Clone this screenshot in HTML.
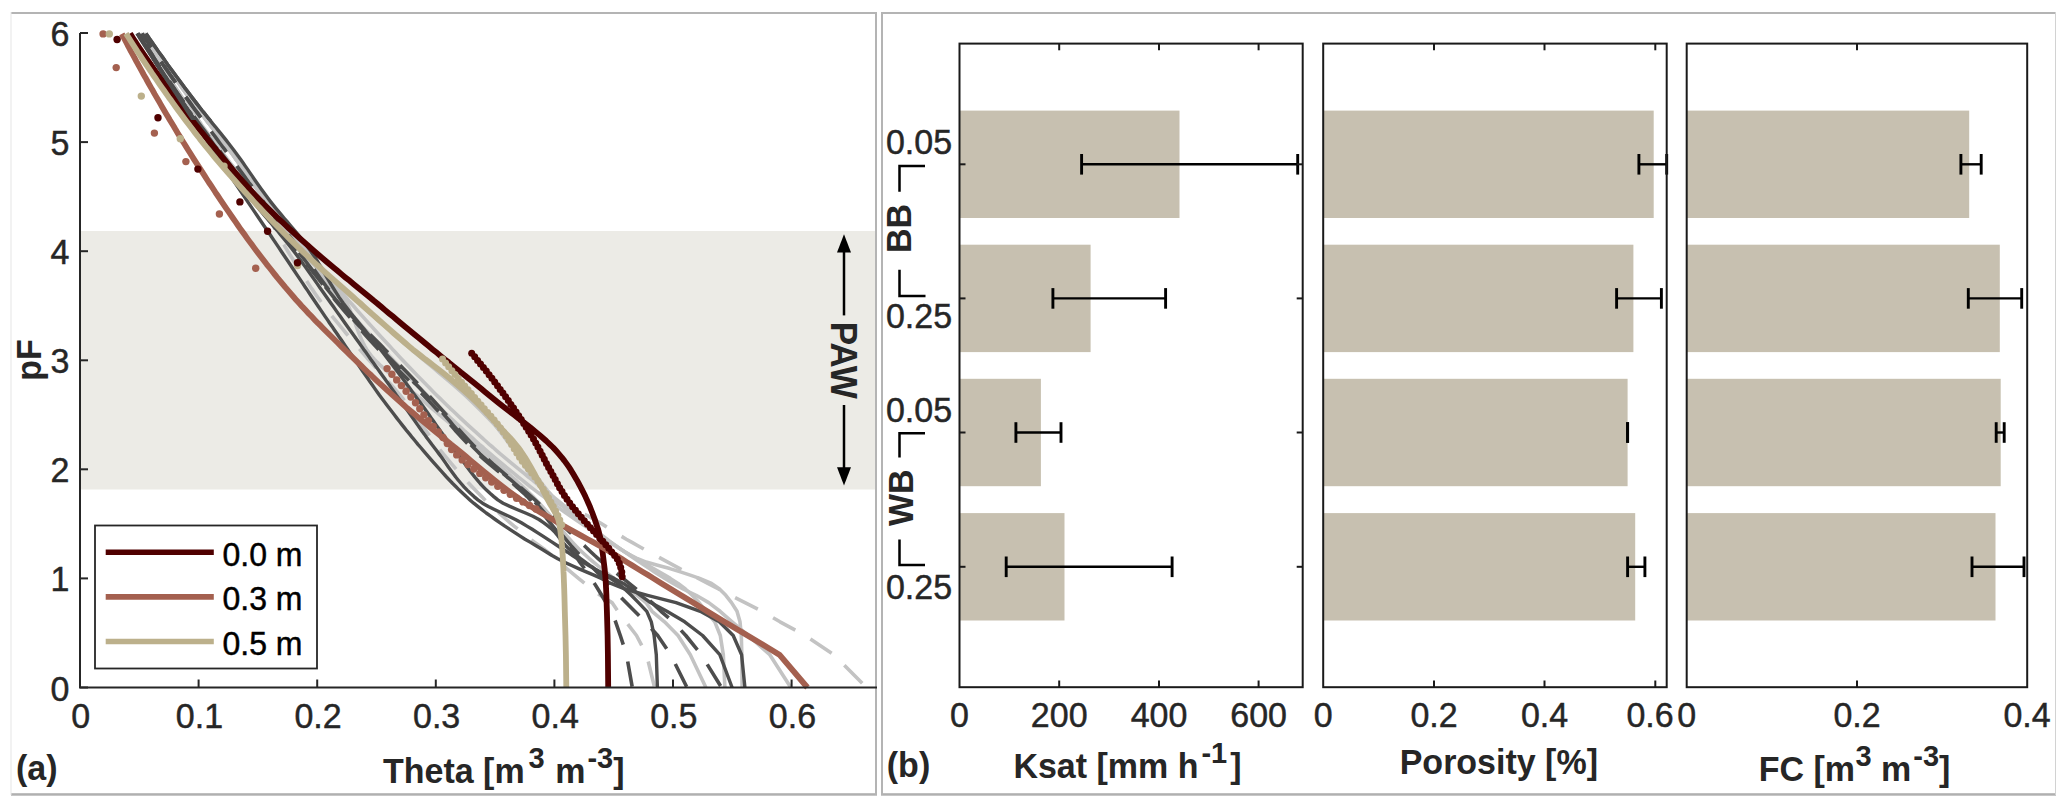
<!DOCTYPE html><html><head><meta charset="utf-8"><style>html,body{margin:0;padding:0;background:#fff;overflow:hidden}svg{display:block}</style></head><body>
<svg width="2067" height="807" viewBox="0 0 2067 807" style="font-family: 'Liberation Sans', sans-serif;">
<rect x="0" y="0" width="2067" height="807" fill="#fff"/>
<rect x="11" y="12" width="866" height="2" fill="#b4b4b4"/>
<rect x="11" y="793.2" width="866" height="2.5" fill="#b0b0b0"/>
<rect x="10.5" y="12" width="1" height="783" fill="#e6e6e6"/>
<rect x="875" y="12" width="2" height="783" fill="#b4b4b4"/>
<rect x="881" y="12" width="1175" height="2" fill="#b4b4b4"/>
<rect x="881" y="793.2" width="1175" height="2.5" fill="#b0b0b0"/>
<rect x="881" y="12" width="2" height="783" fill="#b4b4b4"/>
<rect x="2055" y="12" width="1" height="783" fill="#d2d2d2"/>
<rect x="81" y="231" width="794" height="258.5" fill="#ecebe6"/>
<g fill="none" stroke-linejoin="round">
<path d="M146.0,33.5 L147.1,35.2 L149.2,38.5 L151.3,41.7 L153.5,45.0 L155.6,48.3 L157.8,51.6 L160.0,54.8 L162.2,58.1 L164.4,61.4 L166.6,64.7 L168.9,67.9 L171.1,71.2 L173.4,74.5 L175.7,77.7 L178.0,81.0 L180.3,84.3 L182.6,87.6 L184.9,90.8 L187.3,94.1 L189.6,97.4 L192.0,100.6 L194.4,103.9 L196.8,107.2 L199.3,110.5 L201.7,113.7 L204.2,117.0 L206.8,120.3 L209.3,123.6 L211.8,126.8 L214.4,130.1 L216.9,133.4 L219.4,136.6 L221.9,139.9 L224.4,143.2 L226.9,146.5 L229.3,149.7 L231.7,153.0 L234.1,156.3 L236.4,159.6 L238.8,162.8 L241.1,166.1 L243.4,169.4 L245.7,172.6 L248.0,175.9 L250.3,179.2 L252.6,182.5 L254.9,185.7 L257.2,189.0 L259.5,192.3 L261.8,195.5 L264.2,198.8 L266.5,202.1 L268.8,205.4 L271.0,208.6 L273.2,211.9 L275.4,215.2 L277.6,218.5 L279.8,221.7 L282.0,225.0 L284.3,228.3 L286.6,231.5 L288.9,234.8 L291.4,238.1 L293.9,241.4 L296.5,244.6 L299.2,247.9 L302.0,251.2 L305.0,254.5 L308.2,257.7 L311.5,261.0 L315.0,264.3 L318.5,267.5 L322.2,270.8 L325.9,274.1 L329.7,277.4 L333.5,280.6 L337.3,283.9 L341.2,287.2 L345.0,290.4 L348.8,293.7 L352.6,297.0 L356.3,300.3 L360.0,303.5 L363.6,306.8 L367.3,310.1 L371.0,313.4 L374.7,316.6 L378.4,319.9 L382.1,323.2 L385.8,326.4 L389.5,329.7 L393.2,333.0 L397.0,336.3 L400.8,339.5 L404.6,342.8 L408.4,346.1 L412.2,349.4 L416.1,352.6 L420.2,355.9 L424.3,359.2 L428.5,362.4 L432.7,365.7 L437.0,369.0 L441.3,372.3 L445.5,375.5 L449.7,378.8 L453.8,382.1 L457.9,385.3 L461.8,388.6 L465.5,391.9 L469.1,395.2 L472.5,398.4 L475.6,401.7 L478.7,405.0 L481.6,408.3 L484.4,411.5 L487.1,414.8 L489.8,418.1 L492.3,421.3 L494.9,424.6 L497.4,427.9 L499.8,431.2 L502.3,434.4 L504.7,437.7 L507.1,441.0 L509.6,444.3 L512.1,447.5 L514.6,450.8 L517.0,454.1 L519.2,457.3 L521.3,460.6 L523.4,463.9 L525.3,467.2 L527.3,470.4 L529.3,473.7 L531.4,477.0 L533.6,480.2 L536.0,483.5 L538.6,486.8 L541.4,490.1 L544.5,493.3 L548.0,496.6 L551.9,499.9 L557.2,503.2 L564.7,506.4 L573.1,509.7 L581.4,513.0 L588.5,516.2 L594.4,519.5 L600.0,522.8 L605.3,526.1 L610.4,529.3 L615.5,532.6 L620.8,535.9 L626.3,539.2 L632.0,542.4 L637.9,545.7 L643.8,549.0 L649.8,552.2 L655.8,555.5 L661.8,558.8 L667.8,562.1 L673.8,565.3 L679.8,568.6 L685.9,571.9 L692.1,575.1 L698.3,578.4 L707.8,583.4 L718.5,589.0 L730.8,595.3 L745.0,602.6 L762.0,611.3 L780.0,621.8 L805.0,635.5 L834.0,654.7 L866.4,687.5" stroke="#c3c3c3" stroke-width="3.6" stroke-dasharray="25.5 17.5" stroke-dashoffset="29.5"/>
<path d="M145.0,33.5 L146.1,35.2 L148.2,38.5 L150.4,41.7 L152.6,45.0 L154.8,48.3 L157.0,51.6 L159.2,54.8 L161.4,58.1 L163.6,61.4 L165.9,64.7 L168.2,67.9 L170.4,71.2 L172.7,74.5 L175.0,77.7 L177.3,81.0 L179.7,84.3 L182.0,87.6 L184.4,90.8 L186.7,94.1 L189.1,97.4 L191.5,100.6 L193.9,103.9 L196.3,107.2 L198.8,110.5 L201.3,113.7 L203.9,117.0 L206.4,120.3 L209.0,123.6 L211.5,126.8 L214.1,130.1 L216.6,133.4 L219.2,136.6 L221.7,139.9 L224.2,143.2 L226.7,146.5 L229.1,149.7 L231.5,153.0 L233.9,156.3 L236.3,159.6 L238.6,162.8 L240.9,166.1 L243.3,169.4 L245.6,172.6 L247.9,175.9 L250.2,179.2 L252.5,182.5 L254.8,185.7 L257.1,189.0 L259.4,192.3 L261.7,195.5 L264.1,198.8 L266.4,202.1 L268.7,205.4 L270.9,208.6 L273.2,211.9 L275.4,215.2 L277.6,218.5 L279.8,221.7 L282.0,225.0 L284.3,228.3 L286.6,231.5 L289.0,234.8 L291.4,238.1 L293.9,241.4 L296.5,244.6 L299.2,247.9 L302.0,251.2 L305.0,254.5 L308.1,257.7 L311.4,261.0 L314.8,264.3 L318.2,267.5 L321.8,270.8 L325.5,274.1 L329.1,277.4 L332.9,280.6 L336.6,283.9 L340.4,287.2 L344.2,290.4 L347.9,293.7 L351.6,297.0 L355.3,300.3 L358.9,303.5 L362.6,306.8 L366.3,310.1 L370.0,313.4 L373.7,316.6 L377.4,319.9 L381.2,323.2 L384.9,326.4 L388.7,329.7 L392.4,333.0 L396.2,336.3 L400.0,339.5 L403.7,342.8 L407.5,346.1 L411.3,349.4 L415.0,352.6 L418.9,355.9 L422.7,359.2 L426.6,362.4 L430.6,365.7 L434.5,369.0 L438.4,372.3 L442.3,375.5 L446.2,378.8 L450.1,382.1 L453.9,385.3 L457.6,388.6 L461.3,391.9 L464.9,395.2 L468.4,398.4 L471.8,401.7 L475.1,405.0 L478.4,408.3 L481.7,411.5 L484.9,414.8 L488.1,418.1 L491.2,421.3 L494.3,424.6 L497.4,427.9 L500.4,431.2 L503.3,434.4 L506.3,437.7 L509.2,441.0 L512.0,444.3 L514.9,447.5 L517.7,450.8 L520.4,454.1 L522.9,457.3 L525.4,460.6 L527.8,463.9 L530.1,467.2 L532.5,470.4 L534.8,473.7 L537.1,477.0 L539.5,480.2 L541.9,483.5 L544.5,486.8 L547.1,490.1 L549.9,493.3 L552.8,496.6 L555.9,499.9 L559.2,503.2 L562.7,506.4 L566.5,509.7 L570.4,513.0 L574.5,516.2 L578.8,519.5 L583.1,522.8 L587.6,526.1 L592.2,529.3 L596.8,532.6 L601.5,535.9 L606.3,539.2 L611.0,542.4 L615.8,545.7 L620.5,549.0 L625.2,552.2 L629.9,555.5 L634.7,558.8 L639.5,562.1 L644.4,565.3 L649.4,568.6 L654.4,571.9 L659.6,575.1 L664.9,578.4 L673.2,583.4 L683.0,589.0 L696.1,595.3 L708.7,602.6 L720.1,611.3 L732.1,621.8 L748.3,635.5 L769.8,654.7 L790.8,687.5" stroke="#c3c3c3" stroke-width="3.6"/>
<path d="M144.0,33.5 L145.1,35.2 L147.4,38.5 L149.6,41.7 L151.8,45.0 L154.1,48.3 L156.3,51.6 L158.6,54.8 L160.9,58.1 L163.2,61.4 L165.5,64.7 L167.8,67.9 L170.1,71.2 L172.5,74.5 L174.8,77.7 L177.2,81.0 L179.5,84.3 L181.9,87.6 L184.3,90.8 L186.7,94.1 L189.1,97.4 L191.5,100.6 L193.9,103.9 L196.4,107.2 L198.9,110.5 L201.4,113.7 L203.9,117.0 L206.5,120.3 L209.0,123.6 L211.6,126.8 L214.1,130.1 L216.7,133.4 L219.2,136.6 L221.7,139.9 L224.2,143.2 L226.7,146.5 L229.1,149.7 L231.5,153.0 L233.9,156.3 L236.2,159.6 L238.5,162.8 L240.7,166.1 L243.0,169.4 L245.3,172.6 L247.5,175.9 L249.8,179.2 L252.1,182.5 L254.4,185.7 L256.7,189.0 L259.1,192.3 L261.5,195.5 L264.0,198.8 L266.5,202.1 L269.1,205.4 L271.8,208.6 L274.5,211.9 L277.2,215.2 L280.0,218.5 L282.8,221.7 L285.7,225.0 L288.5,228.3 L291.4,231.5 L294.2,234.8 L297.1,238.1 L299.9,241.4 L302.7,244.6 L305.4,247.9 L308.2,251.2 L310.9,254.5 L313.6,257.7 L316.3,261.0 L318.9,264.3 L321.6,267.5 L324.2,270.8 L326.9,274.1 L329.5,277.4 L332.2,280.6 L334.8,283.9 L337.5,287.2 L340.2,290.4 L343.0,293.7 L345.7,297.0 L348.5,300.3 L351.3,303.5 L354.2,306.8 L357.0,310.1 L359.9,313.4 L362.8,316.6 L365.7,319.9 L368.7,323.2 L371.6,326.4 L374.6,329.7 L377.5,333.0 L380.5,336.3 L383.5,339.5 L386.5,342.8 L389.6,346.1 L392.6,349.4 L395.6,352.6 L398.7,355.9 L401.8,359.2 L404.9,362.4 L408.0,365.7 L411.1,369.0 L414.2,372.3 L417.3,375.5 L420.5,378.8 L423.7,382.1 L426.9,385.3 L430.1,388.6 L433.4,391.9 L436.7,395.2 L440.0,398.4 L443.4,401.7 L446.7,405.0 L450.1,408.3 L453.6,411.5 L457.0,414.8 L460.5,418.1 L464.0,421.3 L467.5,424.6 L471.1,427.9 L474.7,431.2 L478.3,434.4 L481.9,437.7 L485.6,441.0 L489.3,444.3 L493.1,447.5 L496.8,450.8 L500.6,454.1 L504.5,457.3 L508.4,460.6 L512.3,463.9 L516.3,467.2 L520.3,470.4 L524.4,473.7 L528.4,477.0 L532.5,480.2 L536.6,483.5 L540.7,486.8 L544.8,490.1 L548.9,493.3 L553.0,496.6 L557.1,499.9 L561.1,503.2 L565.1,506.4 L569.1,509.7 L573.1,513.0 L577.1,516.2 L581.1,519.5 L585.3,522.8 L589.5,526.1 L593.8,529.3 L598.2,532.6 L602.7,535.9 L607.0,539.2 L611.2,542.4 L615.6,545.7 L620.3,549.0 L625.4,552.2 L631.2,555.5 L637.7,558.8 L646.2,562.1 L657.6,565.3 L669.8,568.6 L680.4,571.9 L690.2,575.1 L699.6,578.4 L711.5,583.4 L719.5,589.0 L725.8,595.3 L731.5,602.6 L737.0,611.3 L740.0,621.8 L741.3,635.5 L741.8,654.7 L742.1,687.5" stroke="#c3c3c3" stroke-width="3.6"/>
<path d="M143.0,33.5 L144.2,35.2 L146.5,38.5 L148.8,41.7 L151.1,45.0 L153.4,48.3 L155.7,51.6 L158.0,54.8 L160.4,58.1 L162.7,61.4 L165.1,64.7 L167.5,67.9 L169.8,71.2 L172.2,74.5 L174.6,77.7 L177.0,81.0 L179.4,84.3 L181.8,87.6 L184.2,90.8 L186.6,94.1 L189.0,97.4 L191.5,100.6 L193.9,103.9 L196.4,107.2 L198.9,110.5 L201.4,113.7 L204.0,117.0 L206.5,120.3 L209.1,123.6 L211.6,126.8 L214.2,130.1 L216.7,133.4 L219.2,136.6 L221.7,139.9 L224.2,143.2 L226.7,146.5 L229.1,149.7 L231.5,153.0 L233.9,156.3 L236.2,159.6 L238.5,162.8 L240.8,166.1 L243.1,169.4 L245.4,172.6 L247.7,175.9 L250.0,179.2 L252.3,182.5 L254.6,185.7 L256.9,189.0 L259.2,192.3 L261.6,195.5 L264.0,198.8 L266.5,202.1 L269.0,205.4 L271.5,208.6 L274.0,211.9 L276.6,215.2 L279.2,218.5 L281.8,221.7 L284.4,225.0 L287.0,228.3 L289.6,231.5 L292.2,234.8 L294.8,238.1 L297.4,241.4 L299.9,244.6 L302.4,247.9 L304.9,251.2 L307.3,254.5 L309.7,257.7 L312.0,261.0 L314.3,264.3 L316.6,267.5 L318.8,270.8 L321.1,274.1 L323.4,277.4 L325.7,280.6 L328.0,283.9 L330.3,287.2 L332.7,290.4 L335.2,293.7 L337.6,297.0 L340.2,300.3 L342.8,303.5 L345.5,306.8 L348.2,310.1 L351.0,313.4 L353.8,316.6 L356.7,319.9 L359.6,323.2 L362.5,326.4 L365.4,329.7 L368.4,333.0 L371.4,336.3 L374.4,339.5 L377.4,342.8 L380.4,346.1 L383.4,349.4 L386.4,352.6 L389.4,355.9 L392.5,359.2 L395.5,362.4 L398.6,365.7 L401.7,369.0 L404.8,372.3 L407.9,375.5 L411.0,378.8 L414.2,382.1 L417.4,385.3 L420.6,388.6 L423.9,391.9 L427.1,395.2 L430.4,398.4 L433.7,401.7 L437.1,405.0 L440.5,408.3 L443.9,411.5 L447.3,414.8 L450.7,418.1 L454.2,421.3 L457.7,424.6 L461.3,427.9 L464.8,431.2 L468.4,434.4 L472.1,437.7 L475.7,441.0 L479.4,444.3 L483.2,447.5 L486.9,450.8 L490.7,454.1 L494.5,457.3 L498.4,460.6 L502.3,463.9 L506.2,467.2 L510.2,470.4 L514.2,473.7 L518.2,477.0 L522.3,480.2 L526.4,483.5 L530.6,486.8 L534.8,490.1 L539.1,493.3 L543.5,496.6 L547.8,499.9 L552.3,503.2 L556.8,506.4 L561.4,509.7 L566.0,513.0 L570.7,516.2 L575.4,519.5 L580.2,522.8 L585.0,526.1 L589.9,529.3 L594.9,532.6 L599.9,535.9 L604.9,539.2 L610.0,542.4 L615.2,545.7 L620.4,549.0 L625.6,552.2 L631.1,555.5 L636.7,558.8 L642.4,562.1 L647.9,565.3 L653.4,568.6 L659.1,571.9 L664.8,575.1 L670.3,578.4 L678.1,583.4 L685.4,589.0 L692.2,595.3 L699.0,602.6 L706.0,611.3 L714.8,621.8 L720.3,635.5 L723.3,654.7 L724.9,687.5" stroke="#c3c3c3" stroke-width="3.6"/>
<path d="M141.0,33.5 L142.0,35.2 L144.0,38.5 L146.0,41.7 L148.0,45.0 L150.1,48.3 L152.1,51.6 L154.2,54.8 L156.2,58.1 L158.3,61.4 L160.4,64.7 L162.6,67.9 L164.7,71.2 L166.8,74.5 L169.0,77.7 L171.2,81.0 L173.4,84.3 L175.5,87.6 L177.8,90.8 L180.0,94.1 L182.2,97.4 L184.4,100.6 L186.7,103.9 L189.0,107.2 L191.3,110.5 L193.6,113.7 L195.9,117.0 L198.3,120.3 L200.6,123.6 L203.0,126.8 L205.4,130.1 L207.8,133.4 L210.3,136.6 L212.7,139.9 L215.2,143.2 L217.6,146.5 L220.1,149.7 L222.6,153.0 L225.1,156.3 L227.7,159.6 L230.2,162.8 L232.8,166.1 L235.4,169.4 L238.0,172.6 L240.6,175.9 L243.3,179.2 L245.9,182.5 L248.5,185.7 L251.2,189.0 L253.8,192.3 L256.4,195.5 L259.1,198.8 L261.7,202.1 L264.3,205.4 L266.8,208.6 L269.4,211.9 L272.0,215.2 L274.5,218.5 L277.1,221.7 L279.7,225.0 L282.3,228.3 L284.9,231.5 L287.5,234.8 L290.1,238.1 L292.8,241.4 L295.5,244.6 L298.2,247.9 L301.0,251.2 L303.9,254.5 L307.0,257.7 L310.1,261.0 L313.4,264.3 L316.6,267.5 L319.9,270.8 L323.2,274.1 L326.4,277.4 L329.6,280.6 L332.6,283.9 L335.5,287.2 L338.2,290.4 L340.8,293.7 L343.1,297.0 L345.2,300.3 L347.0,303.5 L348.6,306.8 L350.1,310.1 L351.5,313.4 L352.8,316.6 L354.0,319.9 L355.2,323.2 L356.3,326.4 L357.5,329.7 L358.8,333.0 L360.1,336.3 L361.5,339.5 L363.1,342.8 L364.8,346.1 L366.7,349.4 L368.9,352.6 L371.4,355.9 L374.3,359.2 L377.4,362.4 L380.8,365.7 L384.4,369.0 L388.2,372.3 L392.1,375.5 L396.1,378.8 L400.2,382.1 L404.3,385.3 L408.4,388.6 L412.5,391.9 L416.5,395.2 L420.4,398.4 L424.2,401.7 L427.9,405.0 L431.8,408.3 L435.7,411.5 L439.5,414.8 L443.5,418.1 L447.4,421.3 L451.4,424.6 L455.3,427.9 L459.2,431.2 L463.2,434.4 L467.1,437.7 L470.9,441.0 L474.8,444.3 L478.6,447.5 L482.3,450.8 L486.0,454.1 L489.8,457.3 L493.5,460.6 L497.3,463.9 L501.0,467.2 L504.7,470.4 L508.4,473.7 L512.1,477.0 L515.7,480.2 L519.3,483.5 L522.8,486.8 L526.3,490.1 L529.6,493.3 L533.0,496.6 L536.2,499.9 L539.3,503.2 L542.3,506.4 L545.2,509.7 L548.0,513.0 L550.7,516.2 L553.4,519.5 L556.0,522.8 L558.7,526.1 L561.4,529.3 L564.1,532.6 L566.8,535.9 L569.7,539.2 L572.6,542.4 L575.7,545.7 L578.9,549.0 L582.3,552.2 L585.9,555.5 L589.6,558.8 L593.5,562.1 L597.4,565.3 L601.5,568.6 L605.6,571.9 L609.8,575.1 L614.0,578.4 L620.5,583.4 L627.8,589.0 L637.0,595.3 L646.0,602.6 L652.0,611.3 L664.5,621.8 L678.0,635.5 L690.3,654.7 L705.9,687.5" stroke="#c3c3c3" stroke-width="3.6"/>
<path d="M140.0,33.5 L141.1,35.2 L143.1,38.5 L145.2,41.7 L147.3,45.0 L149.4,48.3 L151.5,51.6 L153.6,54.8 L155.7,58.1 L157.9,61.4 L160.0,64.7 L162.2,67.9 L164.4,71.2 L166.6,74.5 L168.8,77.7 L171.0,81.0 L173.2,84.3 L175.4,87.6 L177.7,90.8 L179.9,94.1 L182.2,97.4 L184.5,100.6 L186.7,103.9 L189.0,107.2 L191.4,110.5 L193.7,113.7 L196.1,117.0 L198.4,120.3 L200.8,123.6 L203.2,126.8 L205.6,130.1 L208.0,133.4 L210.4,136.6 L212.8,139.9 L215.3,143.2 L217.7,146.5 L220.1,149.7 L222.5,153.0 L225.0,156.3 L227.6,159.6 L230.1,162.8 L232.7,166.1 L235.2,169.4 L237.8,172.6 L240.4,175.9 L242.9,179.2 L245.4,182.5 L247.9,185.7 L250.3,189.0 L252.7,192.3 L255.0,195.5 L257.2,198.8 L259.4,202.1 L261.4,205.4 L263.4,208.6 L265.4,211.9 L267.3,215.2 L269.1,218.5 L271.0,221.7 L272.8,225.0 L274.6,228.3 L276.4,231.5 L278.3,234.8 L280.1,238.1 L282.0,241.4 L283.9,244.6 L285.8,247.9 L287.8,251.2 L289.8,254.5 L291.9,257.7 L293.9,261.0 L295.9,264.3 L298.0,267.5 L300.0,270.8 L302.1,274.1 L304.2,277.4 L306.4,280.6 L308.5,283.9 L310.7,287.2 L313.0,290.4 L315.2,293.7 L317.5,297.0 L319.9,300.3 L322.3,303.5 L324.8,306.8 L327.3,310.1 L329.8,313.4 L332.4,316.6 L335.1,319.9 L337.8,323.2 L340.5,326.4 L343.2,329.7 L345.9,333.0 L348.7,336.3 L351.5,339.5 L354.2,342.8 L357.0,346.1 L359.8,349.4 L362.5,352.6 L365.3,355.9 L368.2,359.2 L371.1,362.4 L374.0,365.7 L377.0,369.0 L379.9,372.3 L382.9,375.5 L385.8,378.8 L388.7,382.1 L391.6,385.3 L394.5,388.6 L397.3,391.9 L400.0,395.2 L402.7,398.4 L405.2,401.7 L407.8,405.0 L410.2,408.3 L412.6,411.5 L414.9,414.8 L417.2,418.1 L419.5,421.3 L421.7,424.6 L424.0,427.9 L426.3,431.2 L428.6,434.4 L430.9,437.7 L433.3,441.0 L435.7,444.3 L438.2,447.5 L440.8,450.8 L443.5,454.1 L446.2,457.3 L448.9,460.6 L451.6,463.9 L454.4,467.2 L457.2,470.4 L460.1,473.7 L463.0,477.0 L466.0,480.2 L469.0,483.5 L472.1,486.8 L475.2,490.1 L478.4,493.3 L481.6,496.6 L484.9,499.9 L488.2,503.2 L491.7,506.4 L495.2,509.7 L498.9,513.0 L502.6,516.2 L506.3,519.5 L510.2,522.8 L514.1,526.1 L518.1,529.3 L522.1,532.6 L526.2,535.9 L530.4,539.2 L534.8,542.4 L539.4,545.7 L543.9,549.0 L547.9,552.2 L551.8,555.5 L555.5,558.8 L559.2,562.1 L563.0,565.3 L566.8,568.6 L570.7,571.9 L574.6,575.1 L578.5,578.4 L584.7,583.4 L591.6,589.0 L600.2,595.3 L612.0,602.6 L618.0,611.3 L626.0,621.8 L636.5,635.5 L646.6,654.7 L654.6,687.5" stroke="#c3c3c3" stroke-width="3.6" stroke-dasharray="25.5 17.5" stroke-dashoffset="2.3"/>
<path d="M142.0,33.5 L143.1,35.2 L145.3,38.5 L147.5,41.7 L149.7,45.0 L151.9,48.3 L154.1,51.6 L156.4,54.8 L158.6,58.1 L160.9,61.4 L163.1,64.7 L165.4,67.9 L167.7,71.2 L169.9,74.5 L172.2,77.7 L174.5,81.0 L176.8,84.3 L179.1,87.6 L181.5,90.8 L183.8,94.1 L186.1,97.4 L188.5,100.6 L190.8,103.9 L193.2,107.2 L195.6,110.5 L198.0,113.7 L200.4,117.0 L202.8,120.3 L205.3,123.6 L207.7,126.8 L210.2,130.1 L212.6,133.4 L215.1,136.6 L217.5,139.9 L219.9,143.2 L222.4,146.5 L224.8,149.7 L227.2,153.0 L229.6,156.3 L232.1,159.6 L234.5,162.8 L236.9,166.1 L239.3,169.4 L241.7,172.6 L244.1,175.9 L246.5,179.2 L248.9,182.5 L251.4,185.7 L253.8,189.0 L256.2,192.3 L258.7,195.5 L261.1,198.8 L263.6,202.1 L266.0,205.4 L268.5,208.6 L271.0,211.9 L273.5,215.2 L276.0,218.5 L278.5,221.7 L281.0,225.0 L283.5,228.3 L286.0,231.5 L288.5,234.8 L291.0,238.1 L293.5,241.4 L296.0,244.6 L298.4,247.9 L300.9,251.2 L303.3,254.5 L305.7,257.7 L308.0,261.0 L310.3,264.3 L312.7,267.5 L315.0,270.8 L317.3,274.1 L319.6,277.4 L322.0,280.6 L324.4,283.9 L326.8,287.2 L329.3,290.4 L331.9,293.7 L334.5,297.0 L337.2,300.3 L340.0,303.5 L343.0,306.8 L346.0,310.1 L349.0,313.4 L352.2,316.6 L355.4,319.9 L358.7,323.2 L362.0,326.4 L365.3,329.7 L368.6,333.0 L371.9,336.3 L375.2,339.5 L378.5,342.8 L381.7,346.1 L384.9,349.4 L388.0,352.6 L391.2,355.9 L394.3,359.2 L397.4,362.4 L400.6,365.7 L403.7,369.0 L406.9,372.3 L410.0,375.5 L413.1,378.8 L416.2,382.1 L419.3,385.3 L422.4,388.6 L425.5,391.9 L428.5,395.2 L431.6,398.4 L434.6,401.7 L437.5,405.0 L440.4,408.3 L443.3,411.5 L446.2,414.8 L449.0,418.1 L451.8,421.3 L454.7,424.6 L457.5,427.9 L460.4,431.2 L463.3,434.4 L466.3,437.7 L469.3,441.0 L472.4,444.3 L475.5,447.5 L478.8,450.8 L482.2,454.1 L485.7,457.3 L489.3,460.6 L492.9,463.9 L496.7,467.2 L500.5,470.4 L504.3,473.7 L508.2,477.0 L512.1,480.2 L516.0,483.5 L519.8,486.8 L523.7,490.1 L527.5,493.3 L531.2,496.6 L534.9,499.9 L538.5,503.2 L542.1,506.4 L545.7,509.7 L549.2,513.0 L552.8,516.2 L556.3,519.5 L559.8,522.8 L563.3,526.1 L566.8,529.3 L570.3,532.6 L573.8,535.9 L577.3,539.2 L580.8,542.4 L584.4,545.7 L587.8,549.0 L591.2,552.2 L594.7,555.5 L598.4,558.8 L602.2,562.1 L606.2,565.3 L610.4,568.6 L614.7,571.9 L618.9,575.1 L623.0,578.4 L629.2,583.4 L636.0,589.0 L643.6,595.3 L652.0,602.6 L661.0,611.3 L673.1,621.8 L685.8,635.5 L701.3,654.7 L721.5,687.5" stroke="#4d4d4d" stroke-width="3.6" stroke-dasharray="25.5 17.5" stroke-dashoffset="9.0"/>
<path d="M139.0,33.5 L140.0,35.2 L142.0,38.5 L144.0,41.7 L146.0,45.0 L148.0,48.3 L150.0,51.6 L152.1,54.8 L154.1,58.1 L156.2,61.4 L158.3,64.7 L160.4,67.9 L162.6,71.2 L164.7,74.5 L166.9,77.7 L169.1,81.0 L171.3,84.3 L173.5,87.6 L175.7,90.8 L177.9,94.1 L180.2,97.4 L182.5,100.6 L184.7,103.9 L187.1,107.2 L189.4,110.5 L191.8,113.7 L194.2,117.0 L196.6,120.3 L199.1,123.6 L201.5,126.8 L204.0,130.1 L206.4,133.4 L208.9,136.6 L211.4,139.9 L213.9,143.2 L216.3,146.5 L218.8,149.7 L221.3,153.0 L223.7,156.3 L226.2,159.6 L228.6,162.8 L231.1,166.1 L233.6,169.4 L236.0,172.6 L238.5,175.9 L241.0,179.2 L243.5,182.5 L246.0,185.7 L248.5,189.0 L251.0,192.3 L253.5,195.5 L256.1,198.8 L258.6,202.1 L261.2,205.4 L263.8,208.6 L266.4,211.9 L269.0,215.2 L271.7,218.5 L274.3,221.7 L276.9,225.0 L279.6,228.3 L282.2,231.5 L284.9,234.8 L287.5,238.1 L290.1,241.4 L292.7,244.6 L295.3,247.9 L297.9,251.2 L300.5,254.5 L303.0,257.7 L305.5,261.0 L308.0,264.3 L310.5,267.5 L313.0,270.8 L315.5,274.1 L318.0,277.4 L320.5,280.6 L323.0,283.9 L325.6,287.2 L328.2,290.4 L330.8,293.7 L333.5,297.0 L336.2,300.3 L339.0,303.5 L341.9,306.8 L344.7,310.1 L347.7,313.4 L350.6,316.6 L353.6,319.9 L356.6,323.2 L359.7,326.4 L362.8,329.7 L365.8,333.0 L368.9,336.3 L372.1,339.5 L375.2,342.8 L378.3,346.1 L381.4,349.4 L384.5,352.6 L387.7,355.9 L390.9,359.2 L394.1,362.4 L397.3,365.7 L400.6,369.0 L403.8,372.3 L407.1,375.5 L410.4,378.8 L413.6,382.1 L416.9,385.3 L420.1,388.6 L423.3,391.9 L426.4,395.2 L429.5,398.4 L432.6,401.7 L435.6,405.0 L438.5,408.3 L441.4,411.5 L444.3,414.8 L447.1,418.1 L449.9,421.3 L452.7,424.6 L455.6,427.9 L458.4,431.2 L461.3,434.4 L464.3,437.7 L467.3,441.0 L470.4,444.3 L473.5,447.5 L476.8,450.8 L480.2,454.1 L483.8,457.3 L487.5,460.6 L491.3,463.9 L495.2,467.2 L499.2,470.4 L503.2,473.7 L507.1,477.0 L511.1,480.2 L515.0,483.5 L518.8,486.8 L522.6,490.1 L526.2,493.3 L529.6,496.6 L532.9,499.9 L536.0,503.2 L539.0,506.4 L541.8,509.7 L544.6,513.0 L547.3,516.2 L549.9,519.5 L552.5,522.8 L555.1,526.1 L557.7,529.3 L560.3,532.6 L562.9,535.9 L565.6,539.2 L568.3,542.4 L571.1,545.7 L574.1,549.0 L577.1,552.2 L580.3,555.5 L583.6,558.8 L586.9,562.1 L590.3,565.3 L593.6,568.6 L596.9,571.9 L600.1,575.1 L603.3,578.4 L608.0,583.4 L613.1,589.0 L619.0,595.3 L626.0,602.6 L634.7,611.3 L645.2,621.8 L657.7,635.5 L670.7,654.7 L687.0,687.5" stroke="#4d4d4d" stroke-width="3.6" stroke-dasharray="25.5 17.5" stroke-dashoffset="29.4"/>
<path d="M138.0,33.5 L139.0,35.2 L141.0,38.5 L143.0,41.7 L145.0,45.0 L147.0,48.3 L149.0,51.6 L151.1,54.8 L153.1,58.1 L155.2,61.4 L157.3,64.7 L159.4,67.9 L161.6,71.2 L163.7,74.5 L165.9,77.7 L168.1,81.0 L170.3,84.3 L172.5,87.6 L174.7,90.8 L176.9,94.1 L179.2,97.4 L181.5,100.6 L183.7,103.9 L186.1,107.2 L188.4,110.5 L190.8,113.7 L193.2,117.0 L195.7,120.3 L198.1,123.6 L200.6,126.8 L203.0,130.1 L205.5,133.4 L208.0,136.6 L210.5,139.9 L212.9,143.2 L215.4,146.5 L217.8,149.7 L220.2,153.0 L222.6,156.3 L225.0,159.6 L227.4,162.8 L229.8,166.1 L232.2,169.4 L234.5,172.6 L236.9,175.9 L239.3,179.2 L241.7,182.5 L244.2,185.7 L246.6,189.0 L249.1,192.3 L251.6,195.5 L254.1,198.8 L256.6,202.1 L259.2,205.4 L261.9,208.6 L264.5,211.9 L267.2,215.2 L269.9,218.5 L272.6,221.7 L275.4,225.0 L278.1,228.3 L280.8,231.5 L283.6,234.8 L286.3,238.1 L289.0,241.4 L291.7,244.6 L294.3,247.9 L296.9,251.2 L299.5,254.5 L302.1,257.7 L304.7,261.0 L307.2,264.3 L309.7,267.5 L312.2,270.8 L314.7,274.1 L317.3,277.4 L319.8,280.6 L322.3,283.9 L324.9,287.2 L327.5,290.4 L330.1,293.7 L332.7,297.0 L335.4,300.3 L338.1,303.5 L340.9,306.8 L343.6,310.1 L346.4,313.4 L349.2,316.6 L352.0,319.9 L354.9,323.2 L357.8,326.4 L360.6,329.7 L363.6,333.0 L366.5,336.3 L369.4,339.5 L372.4,342.8 L375.4,346.1 L378.4,349.4 L381.4,352.6 L384.5,355.9 L387.7,359.2 L390.9,362.4 L394.1,365.7 L397.3,369.0 L400.6,372.3 L403.9,375.5 L407.2,378.8 L410.4,382.1 L413.7,385.3 L417.0,388.6 L420.2,391.9 L423.4,395.2 L426.5,398.4 L429.6,401.7 L432.7,405.0 L435.6,408.3 L438.6,411.5 L441.5,414.8 L444.4,418.1 L447.3,421.3 L450.2,424.6 L453.1,427.9 L456.0,431.2 L459.0,434.4 L462.0,437.7 L465.1,441.0 L468.2,444.3 L471.4,447.5 L474.7,450.8 L478.2,454.1 L481.8,457.3 L485.5,460.6 L489.3,463.9 L493.2,467.2 L497.1,470.4 L501.1,473.7 L505.0,477.0 L508.9,480.2 L512.8,483.5 L516.6,486.8 L520.3,490.1 L523.8,493.3 L527.2,496.6 L530.4,499.9 L533.4,503.2 L536.4,506.4 L539.3,509.7 L542.1,513.0 L544.9,516.2 L547.6,519.5 L550.2,522.8 L552.8,526.1 L555.4,529.3 L557.9,532.6 L560.4,535.9 L562.9,539.2 L565.3,542.4 L567.8,545.7 L570.2,549.0 L572.7,552.2 L575.1,555.5 L577.5,558.8 L579.8,562.1 L582.2,565.3 L584.5,568.6 L586.7,571.9 L588.9,575.1 L591.1,578.4 L594.4,583.4 L597.9,589.0 L601.7,595.3 L606.0,602.6 L611.0,611.3 L615.6,621.8 L620.3,635.5 L626.5,654.7 L632.3,687.5" stroke="#4d4d4d" stroke-width="3.6" stroke-dasharray="25.5 17.5" stroke-dashoffset="14.5"/>
<path d="M146.0,33.5 L147.2,35.2 L149.4,38.5 L151.7,41.7 L153.9,45.0 L156.2,48.3 L158.5,51.6 L160.8,54.8 L163.2,58.1 L165.5,61.4 L167.8,64.7 L170.2,67.9 L172.6,71.2 L175.0,74.5 L177.4,77.7 L179.8,81.0 L182.2,84.3 L184.6,87.6 L187.1,90.8 L189.5,94.1 L192.0,97.4 L194.5,100.6 L197.0,103.9 L199.6,107.2 L202.1,110.5 L204.8,113.7 L207.4,117.0 L210.1,120.3 L212.7,123.6 L215.4,126.8 L218.0,130.1 L220.7,133.4 L223.3,136.6 L225.9,139.9 L228.5,143.2 L231.0,146.5 L233.5,149.7 L235.9,153.0 L238.3,156.3 L240.7,159.6 L243.0,162.8 L245.3,166.1 L247.6,169.4 L249.8,172.6 L252.1,175.9 L254.3,179.2 L256.6,182.5 L258.9,185.7 L261.2,189.0 L263.6,192.3 L266.0,195.5 L268.4,198.8 L270.9,202.1 L273.5,205.4 L276.1,208.6 L278.9,211.9 L281.6,215.2 L284.4,218.5 L287.2,221.7 L290.0,225.0 L292.8,228.3 L295.6,231.5 L298.3,234.8 L300.9,238.1 L303.6,241.4 L306.1,244.6 L308.5,247.9 L310.8,251.2 L313.0,254.5 L315.2,257.7 L317.2,261.0 L319.2,264.3 L321.2,267.5 L323.1,270.8 L325.0,274.1 L326.9,277.4 L328.8,280.6 L330.7,283.9 L332.7,287.2 L334.7,290.4 L336.8,293.7 L338.9,297.0 L341.2,300.3 L343.5,303.5 L346.0,306.8 L348.5,310.1 L351.0,313.4 L353.7,316.6 L356.3,319.9 L359.0,323.2 L361.7,326.4 L364.5,329.7 L367.2,333.0 L369.9,336.3 L372.6,339.5 L375.3,342.8 L377.9,346.1 L380.5,349.4 L383.0,352.6 L385.5,355.9 L388.0,359.2 L390.5,362.4 L393.0,365.7 L395.4,369.0 L397.9,372.3 L400.3,375.5 L402.8,378.8 L405.2,382.1 L407.6,385.3 L410.0,388.6 L412.4,391.9 L414.8,395.2 L417.2,398.4 L419.7,401.7 L422.0,405.0 L424.4,408.3 L426.7,411.5 L429.0,414.8 L431.3,418.1 L433.6,421.3 L435.9,424.6 L438.3,427.9 L440.6,431.2 L443.0,434.4 L445.4,437.7 L447.8,441.0 L450.2,444.3 L452.8,447.5 L455.3,450.8 L457.8,454.1 L460.2,457.3 L462.6,460.6 L465.0,463.9 L467.3,467.2 L469.7,470.4 L472.2,473.7 L474.7,477.0 L477.4,480.2 L480.2,483.5 L483.3,486.8 L486.5,490.1 L490.0,493.3 L493.8,496.6 L497.8,499.9 L503.1,503.2 L509.9,506.4 L517.6,509.7 L525.5,513.0 L532.9,516.2 L539.0,519.5 L543.9,522.8 L548.2,526.1 L552.0,529.3 L555.3,532.6 L558.0,535.9 L560.4,539.2 L562.8,542.4 L565.7,545.7 L569.0,549.0 L572.7,552.2 L576.7,555.5 L580.9,558.8 L585.3,562.1 L589.7,565.3 L594.5,568.6 L599.7,571.9 L605.1,575.1 L610.5,578.4 L617.9,583.4 L624.7,589.0 L631.3,595.3 L638.5,602.6 L646.8,611.3 L651.3,621.8 L654.1,635.5 L656.3,654.7 L657.4,687.5" stroke="#4d4d4d" stroke-width="3.4"/>
<path d="M138.0,33.5 L139.0,35.2 L141.1,38.5 L143.1,41.7 L145.2,45.0 L147.2,48.3 L149.3,51.6 L151.4,54.8 L153.5,58.1 L155.6,61.4 L157.7,64.7 L159.8,67.9 L161.9,71.2 L164.0,74.5 L166.2,77.7 L168.3,81.0 L170.5,84.3 L172.7,87.6 L174.9,90.8 L177.0,94.1 L179.2,97.4 L181.4,100.6 L183.7,103.9 L185.9,107.2 L188.1,110.5 L190.4,113.7 L192.7,117.0 L195.0,120.3 L197.3,123.6 L199.6,126.8 L201.9,130.1 L204.2,133.4 L206.5,136.6 L208.8,139.9 L211.2,143.2 L213.5,146.5 L215.8,149.7 L218.1,153.0 L220.4,156.3 L222.7,159.6 L225.1,162.8 L227.4,166.1 L229.7,169.4 L232.0,172.6 L234.3,175.9 L236.6,179.2 L239.0,182.5 L241.4,185.7 L243.8,189.0 L246.2,192.3 L248.6,195.5 L251.1,198.8 L253.6,202.1 L256.2,205.4 L258.8,208.6 L261.5,211.9 L264.2,215.2 L267.0,218.5 L269.7,221.7 L272.5,225.0 L275.2,228.3 L278.0,231.5 L280.7,234.8 L283.4,238.1 L286.1,241.4 L288.7,244.6 L291.3,247.9 L293.8,251.2 L296.3,254.5 L298.7,257.7 L301.1,261.0 L303.4,264.3 L305.8,267.5 L308.1,270.8 L310.4,274.1 L312.7,277.4 L315.0,280.6 L317.3,283.9 L319.6,287.2 L321.9,290.4 L324.2,293.7 L326.5,297.0 L328.8,300.3 L331.1,303.5 L333.5,306.8 L335.8,310.1 L338.1,313.4 L340.4,316.6 L342.8,319.9 L345.1,323.2 L347.4,326.4 L349.7,329.7 L352.1,333.0 L354.4,336.3 L356.7,339.5 L359.1,342.8 L361.4,346.1 L363.7,349.4 L366.1,352.6 L368.4,355.9 L370.7,359.2 L373.1,362.4 L375.4,365.7 L377.8,369.0 L380.1,372.3 L382.4,375.5 L384.8,378.8 L387.1,382.1 L389.5,385.3 L391.8,388.6 L394.2,391.9 L396.5,395.2 L398.9,398.4 L401.2,401.7 L403.6,405.0 L405.9,408.3 L408.2,411.5 L410.5,414.8 L412.8,418.1 L415.1,421.3 L417.4,424.6 L419.8,427.9 L422.1,431.2 L424.5,434.4 L426.8,437.7 L429.3,441.0 L431.7,444.3 L434.2,447.5 L436.7,450.8 L439.2,454.1 L441.6,457.3 L443.9,460.6 L446.2,463.9 L448.5,467.2 L450.9,470.4 L453.3,473.7 L455.7,477.0 L458.3,480.2 L461.1,483.5 L464.0,486.8 L467.1,490.1 L470.4,493.3 L474.0,496.6 L477.9,499.9 L482.5,503.2 L488.3,506.4 L494.9,509.7 L501.8,513.0 L508.8,516.2 L515.4,519.5 L521.4,522.8 L526.9,526.1 L532.2,529.3 L537.4,532.6 L542.5,535.9 L547.5,539.2 L552.5,542.4 L557.6,545.7 L562.6,549.0 L567.6,552.2 L572.5,555.5 L577.6,558.8 L582.9,562.1 L588.3,565.3 L594.0,568.6 L600.0,571.9 L606.9,575.1 L614.1,578.4 L623.4,583.4 L631.7,589.0 L640.5,595.3 L650.5,602.6 L666.9,611.3 L684.7,621.8 L702.6,635.5 L719.8,654.7 L732.1,687.5" stroke="#4d4d4d" stroke-width="3.4"/>
<path d="M137.0,33.5 L138.1,35.2 L140.2,38.5 L142.3,41.7 L144.4,45.0 L146.5,48.3 L148.6,51.6 L150.7,54.8 L152.8,58.1 L154.9,61.4 L157.0,64.7 L159.1,67.9 L161.3,71.2 L163.4,74.5 L165.5,77.7 L167.6,81.0 L169.8,84.3 L171.9,87.6 L174.0,90.8 L176.2,94.1 L178.3,97.4 L180.4,100.6 L182.6,103.9 L184.7,107.2 L186.9,110.5 L189.0,113.7 L191.2,117.0 L193.3,120.3 L195.5,123.6 L197.6,126.8 L199.8,130.1 L202.0,133.4 L204.1,136.6 L206.3,139.9 L208.5,143.2 L210.6,146.5 L212.8,149.7 L215.0,153.0 L217.2,156.3 L219.4,159.6 L221.6,162.8 L223.8,166.1 L226.0,169.4 L228.2,172.6 L230.4,175.9 L232.6,179.2 L234.8,182.5 L237.0,185.7 L239.2,189.0 L241.4,192.3 L243.6,195.5 L245.8,198.8 L248.0,202.1 L250.2,205.4 L252.4,208.6 L254.6,211.9 L256.9,215.2 L259.1,218.5 L261.3,221.7 L263.5,225.0 L265.7,228.3 L267.9,231.5 L270.2,234.8 L272.4,238.1 L274.6,241.4 L276.8,244.6 L279.0,247.9 L281.2,251.2 L283.4,254.5 L285.6,257.7 L287.8,261.0 L290.0,264.3 L292.1,267.5 L294.3,270.8 L296.5,274.1 L298.7,277.4 L300.9,280.6 L303.1,283.9 L305.3,287.2 L307.5,290.4 L309.7,293.7 L311.9,297.0 L314.1,300.3 L316.3,303.5 L318.5,306.8 L320.8,310.1 L323.0,313.4 L325.2,316.6 L327.5,319.9 L329.7,323.2 L332.0,326.4 L334.2,329.7 L336.5,333.0 L338.7,336.3 L341.0,339.5 L343.2,342.8 L345.5,346.1 L347.8,349.4 L350.0,352.6 L352.3,355.9 L354.5,359.2 L356.7,362.4 L359.0,365.7 L361.2,369.0 L363.4,372.3 L365.7,375.5 L368.0,378.8 L370.2,382.1 L372.5,385.3 L374.8,388.6 L377.2,391.9 L379.5,395.2 L381.9,398.4 L384.4,401.7 L386.8,405.0 L389.3,408.3 L391.8,411.5 L394.3,414.8 L396.8,418.1 L399.3,421.3 L401.9,424.6 L404.5,427.9 L407.1,431.2 L409.8,434.4 L412.4,437.7 L415.2,441.0 L417.9,444.3 L420.7,447.5 L423.5,450.8 L426.3,454.1 L429.1,457.3 L431.9,460.6 L434.8,463.9 L437.7,467.2 L440.6,470.4 L443.5,473.7 L446.5,477.0 L449.6,480.2 L452.7,483.5 L456.0,486.8 L459.3,490.1 L462.7,493.3 L466.2,496.6 L469.9,499.9 L473.7,503.2 L477.7,506.4 L481.9,509.7 L486.2,513.0 L490.7,516.2 L495.3,519.5 L500.1,522.8 L504.9,526.1 L509.8,529.3 L514.8,532.6 L519.8,535.9 L525.0,539.2 L530.5,542.4 L536.1,545.7 L541.6,549.0 L546.8,552.2 L552.1,555.5 L557.8,558.8 L564.1,562.1 L571.2,565.3 L578.6,568.6 L586.2,571.9 L593.9,575.1 L601.3,578.4 L611.0,583.4 L624.6,589.0 L647.5,595.3 L676.0,602.6 L700.3,611.3 L719.3,621.8 L733.2,635.5 L741.6,654.7 L744.9,687.5" stroke="#4d4d4d" stroke-width="3.4"/>
<path d="M130.0,33.5 L131.1,35.2 L133.2,38.5 L135.3,41.7 L137.5,45.0 L139.7,48.3 L141.9,51.6 L144.1,54.8 L146.3,58.1 L148.6,61.4 L150.9,64.7 L153.1,67.9 L155.4,71.2 L157.8,74.5 L160.1,77.7 L162.5,81.0 L164.8,84.3 L167.2,87.6 L169.6,90.8 L172.0,94.1 L174.4,97.4 L176.9,100.6 L179.3,103.9 L181.8,107.2 L184.4,110.5 L186.9,113.7 L189.5,117.0 L192.1,120.3 L194.7,123.6 L197.3,126.8 L199.9,130.1 L202.6,133.4 L205.3,136.6 L208.0,139.9 L210.7,143.2 L213.4,146.5 L216.1,149.7 L218.8,153.0 L221.5,156.3 L224.2,159.6 L227.0,162.8 L229.7,166.1 L232.4,169.4 L235.2,172.6 L238.0,175.9 L240.8,179.2 L243.7,182.5 L246.6,185.7 L249.5,189.0 L252.5,192.3 L255.5,195.5 L258.6,198.8 L261.7,202.1 L264.9,205.4 L268.2,208.6 L271.5,211.9 L274.9,215.2 L278.3,218.5 L281.8,221.7 L285.3,225.0 L288.8,228.3 L292.4,231.5 L296.0,234.8 L299.6,238.1 L303.3,241.4 L307.0,244.6 L310.6,247.9 L314.3,251.2 L318.1,254.5 L321.9,257.7 L325.7,261.0 L329.6,264.3 L333.5,267.5 L337.5,270.8 L341.4,274.1 L345.4,277.4 L349.4,280.6 L353.4,283.9 L357.4,287.2 L361.4,290.4 L365.4,293.7 L369.4,297.0 L373.3,300.3 L377.3,303.5 L381.2,306.8 L385.1,310.1 L389.1,313.4 L393.0,316.6 L397.0,319.9 L400.9,323.2 L404.8,326.4 L408.8,329.7 L412.7,333.0 L416.7,336.3 L420.7,339.5 L424.6,342.8 L428.6,346.1 L432.6,349.4 L436.6,352.6 L440.6,355.9 L444.6,359.2 L448.7,362.4 L452.7,365.7 L456.8,369.0 L460.8,372.3 L464.9,375.5 L468.9,378.8 L473.0,382.1 L477.0,385.3 L481.0,388.6 L485.1,391.9 L489.1,395.2 L493.1,398.4 L497.1,401.7 L501.2,405.0 L505.4,408.3 L509.6,411.5 L513.9,414.8 L518.2,418.1 L522.4,421.3 L526.6,424.6 L530.8,427.9 L534.9,431.2 L538.8,434.4 L542.6,437.7 L546.3,441.0 L549.8,444.3 L553.1,447.5 L556.1,450.8 L559.0,454.1 L561.7,457.3 L564.3,460.6 L566.7,463.9 L569.0,467.2 L571.1,470.4 L573.1,473.7 L575.0,477.0 L576.9,480.2 L578.7,483.5 L580.5,486.8 L582.2,490.1 L583.8,493.3 L585.4,496.6 L586.9,499.9 L588.4,503.2 L589.8,506.4 L591.1,509.7 L592.4,513.0 L593.6,516.2 L594.8,519.5 L595.9,522.8 L597.0,526.1 L598.1,529.3 L599.0,532.6 L599.8,535.9 L600.5,539.2 L601.1,542.4 L601.6,545.7 L602.1,549.0 L602.6,552.2 L603.0,555.5 L603.4,558.8 L603.8,562.1 L604.2,565.3 L604.6,568.6 L604.9,571.9 L605.2,575.1 L605.5,578.4 L605.8,583.4 L606.1,589.0 L606.4,595.3 L606.6,602.6 L606.9,611.3 L607.2,621.8 L607.6,635.5 L607.9,654.7 L608.2,687.5" stroke="#500000" stroke-width="5.8"/>
<path d="M121.8,33.9 L122.5,35.2 L124.2,38.5 L125.9,41.7 L127.6,45.0 L129.4,48.3 L131.1,51.6 L132.9,54.8 L134.7,58.1 L136.4,61.4 L138.2,64.7 L140.0,67.9 L141.8,71.2 L143.6,74.5 L145.5,77.7 L147.3,81.0 L149.1,84.3 L151.0,87.6 L152.9,90.8 L154.7,94.1 L156.6,97.4 L158.5,100.6 L160.4,103.9 L162.3,107.2 L164.2,110.5 L166.1,113.7 L168.1,117.0 L170.0,120.3 L172.0,123.6 L174.0,126.8 L175.9,130.1 L177.9,133.4 L179.9,136.6 L181.9,139.9 L184.0,143.2 L186.0,146.5 L188.0,149.7 L190.1,153.0 L192.1,156.3 L194.2,159.6 L196.3,162.8 L198.4,166.1 L200.5,169.4 L202.6,172.6 L204.7,175.9 L206.8,179.2 L208.9,182.5 L211.1,185.7 L213.3,189.0 L215.4,192.3 L217.6,195.5 L219.8,198.8 L222.0,202.1 L224.2,205.4 L226.4,208.6 L228.7,211.9 L230.9,215.2 L233.2,218.5 L235.4,221.7 L237.7,225.0 L240.0,228.3 L242.3,231.5 L244.7,234.8 L247.0,238.1 L249.4,241.4 L251.8,244.6 L254.2,247.9 L256.7,251.2 L259.2,254.5 L261.7,257.7 L264.2,261.0 L266.7,264.3 L269.3,267.5 L271.9,270.8 L274.5,274.1 L277.1,277.4 L279.8,280.6 L282.5,283.9 L285.2,287.2 L288.0,290.4 L290.8,293.7 L293.7,297.0 L296.5,300.3 L299.5,303.5 L302.4,306.8 L305.5,310.1 L308.6,313.4 L311.7,316.6 L314.8,319.9 L318.0,323.2 L321.3,326.4 L324.5,329.7 L327.8,333.0 L331.1,336.3 L334.4,339.5 L337.7,342.8 L341.0,346.1 L344.3,349.4 L347.7,352.6 L351.0,355.9 L354.4,359.2 L357.7,362.4 L361.1,365.7 L364.5,369.0 L367.9,372.3 L371.4,375.5 L374.8,378.8 L378.3,382.1 L381.9,385.3 L385.4,388.6 L389.0,391.9 L392.6,395.2 L396.2,398.4 L399.9,401.7 L403.7,405.0 L407.4,408.3 L411.3,411.5 L415.1,414.8 L419.0,418.1 L422.9,421.3 L426.9,424.6 L430.9,427.9 L434.9,431.2 L438.9,434.4 L442.9,437.7 L446.9,441.0 L450.9,444.3 L455.0,447.5 L459.0,450.8 L463.0,454.1 L466.9,457.3 L470.8,460.6 L474.8,463.9 L478.7,467.2 L482.6,470.4 L486.6,473.7 L490.6,477.0 L494.6,480.2 L498.7,483.5 L502.9,486.8 L507.2,490.1 L511.6,493.3 L516.2,496.6 L520.8,499.9 L525.7,503.2 L530.8,506.4 L536.1,509.7 L541.5,513.0 L547.0,516.2 L552.7,519.5 L558.3,522.8 L563.9,526.1 L569.7,529.3 L575.7,532.6 L581.6,535.9 L587.7,539.2 L593.6,542.4 L599.5,545.7 L605.2,549.0 L610.8,552.2 L616.2,555.5 L621.5,558.8 L626.8,562.1 L632.0,565.3 L637.4,568.6 L642.7,571.9 L648.1,575.1 L653.4,578.4 L661.6,583.4 L670.7,589.0 L681.0,595.3 L693.0,602.6 L707.1,611.3 L724.4,621.8 L747.5,635.5 L779.4,654.7 L807.4,687.5" stroke="#a4604f" stroke-width="5.8"/>
<path d="M126.0,33.4 L127.1,35.2 L129.2,38.5 L131.2,41.7 L133.3,45.0 L135.4,48.3 L137.5,51.6 L139.7,54.8 L141.8,58.1 L144.0,61.4 L146.2,64.7 L148.4,67.9 L150.6,71.2 L152.8,74.5 L155.1,77.7 L157.3,81.0 L159.6,84.3 L161.9,87.6 L164.2,90.8 L166.5,94.1 L168.8,97.4 L171.2,100.6 L173.5,103.9 L175.9,107.2 L178.3,110.5 L180.7,113.7 L183.1,117.0 L185.5,120.3 L188.0,123.6 L190.5,126.8 L193.0,130.1 L195.5,133.4 L198.1,136.6 L200.6,139.9 L203.2,143.2 L205.8,146.5 L208.5,149.7 L211.2,153.0 L213.9,156.3 L216.6,159.6 L219.4,162.8 L222.2,166.1 L225.0,169.4 L227.8,172.6 L230.7,175.9 L233.6,179.2 L236.5,182.5 L239.4,185.7 L242.4,189.0 L245.3,192.3 L248.3,195.5 L251.3,198.8 L254.3,202.1 L257.4,205.4 L260.4,208.6 L263.5,211.9 L266.6,215.2 L269.7,218.5 L272.8,221.7 L276.0,225.0 L279.2,228.3 L282.4,231.5 L285.6,234.8 L288.9,238.1 L292.2,241.4 L295.5,244.6 L298.8,247.9 L302.2,251.2 L305.7,254.5 L309.2,257.7 L312.7,261.0 L316.3,264.3 L319.9,267.5 L323.5,270.8 L327.2,274.1 L330.9,277.4 L334.6,280.6 L338.3,283.9 L342.0,287.2 L345.7,290.4 L349.4,293.7 L353.1,297.0 L356.8,300.3 L360.5,303.5 L364.1,306.8 L367.8,310.1 L371.4,313.4 L375.1,316.6 L378.7,319.9 L382.4,323.2 L386.1,326.4 L389.8,329.7 L393.5,333.0 L397.3,336.3 L401.1,339.5 L404.9,342.8 L408.8,346.1 L412.7,349.4 L416.7,352.6 L420.9,355.9 L425.1,359.2 L429.4,362.4 L433.7,365.7 L438.0,369.0 L442.2,372.3 L446.2,375.5 L450.2,378.8 L454.0,382.1 L457.8,385.3 L461.6,388.6 L465.3,391.9 L468.9,395.2 L472.4,398.4 L475.8,401.7 L479.1,405.0 L482.3,408.3 L485.4,411.5 L488.5,414.8 L491.5,418.1 L494.6,421.3 L497.6,424.6 L500.6,427.9 L503.7,431.2 L506.8,434.4 L509.9,437.7 L512.8,441.0 L515.6,444.3 L518.2,447.5 L520.6,450.8 L522.8,454.1 L524.9,457.3 L526.9,460.6 L528.9,463.9 L530.8,467.2 L532.6,470.4 L534.4,473.7 L536.1,477.0 L537.8,480.2 L539.5,483.5 L541.2,486.8 L542.8,490.1 L544.5,493.3 L546.1,496.6 L547.8,499.9 L549.6,503.2 L551.6,506.4 L553.5,509.7 L555.4,513.0 L557.0,516.2 L558.3,519.5 L559.1,522.8 L559.7,526.1 L560.2,529.3 L560.6,532.6 L561.0,535.9 L561.4,539.2 L561.7,542.4 L562.0,545.7 L562.2,549.0 L562.5,552.2 L562.7,555.5 L562.9,558.8 L563.0,562.1 L563.2,565.3 L563.4,568.6 L563.5,571.9 L563.7,575.1 L563.8,578.4 L564.0,583.4 L564.2,589.0 L564.4,595.3 L564.6,602.6 L564.8,611.3 L565.1,621.8 L565.5,635.5 L565.9,654.7 L566.3,687.5" stroke="#bcb08b" stroke-width="5.8"/>
</g>
<defs><clipPath id="topclip"><rect x="80" y="0" width="300" height="120"/></clipPath></defs>
<g fill="none" stroke-linejoin="round" clip-path="url(#topclip)">
<path d="M142.0,33.5 L143.1,35.2 L145.3,38.5 L147.5,41.7 L149.7,45.0 L151.9,48.3 L154.1,51.6 L156.4,54.8 L158.6,58.1 L160.9,61.4 L163.1,64.7 L165.4,67.9 L167.7,71.2 L169.9,74.5 L172.2,77.7 L174.5,81.0 L176.8,84.3 L179.1,87.6 L181.5,90.8 L183.8,94.1 L186.1,97.4 L188.5,100.6 L190.8,103.9 L193.2,107.2 L195.6,110.5 L198.0,113.7 L200.4,117.0 L202.8,120.3 L205.3,123.6 L207.7,126.8 L210.2,130.1 L212.6,133.4 L215.1,136.6 L217.5,139.9 L219.9,143.2 L222.4,146.5 L224.8,149.7 L227.2,153.0 L229.6,156.3 L232.1,159.6" stroke="#4d4d4d" stroke-width="3.6" stroke-dasharray="25.5 17.5" stroke-dashoffset="9.0"/>
<path d="M139.0,33.5 L140.0,35.2 L142.0,38.5 L144.0,41.7 L146.0,45.0 L148.0,48.3 L150.0,51.6 L152.1,54.8 L154.1,58.1 L156.2,61.4 L158.3,64.7 L160.4,67.9 L162.6,71.2 L164.7,74.5 L166.9,77.7 L169.1,81.0 L171.3,84.3 L173.5,87.6 L175.7,90.8 L177.9,94.1 L180.2,97.4 L182.5,100.6 L184.7,103.9 L187.1,107.2 L189.4,110.5 L191.8,113.7 L194.2,117.0 L196.6,120.3 L199.1,123.6 L201.5,126.8 L204.0,130.1 L206.4,133.4 L208.9,136.6 L211.4,139.9 L213.9,143.2 L216.3,146.5 L218.8,149.7 L221.3,153.0 L223.7,156.3 L226.2,159.6" stroke="#4d4d4d" stroke-width="3.6" stroke-dasharray="25.5 17.5" stroke-dashoffset="29.4"/>
<path d="M138.0,33.5 L139.0,35.2 L141.0,38.5 L143.0,41.7 L145.0,45.0 L147.0,48.3 L149.0,51.6 L151.1,54.8 L153.1,58.1 L155.2,61.4 L157.3,64.7 L159.4,67.9 L161.6,71.2 L163.7,74.5 L165.9,77.7 L168.1,81.0 L170.3,84.3 L172.5,87.6 L174.7,90.8 L176.9,94.1 L179.2,97.4 L181.5,100.6 L183.7,103.9 L186.1,107.2 L188.4,110.5 L190.8,113.7 L193.2,117.0 L195.7,120.3 L198.1,123.6 L200.6,126.8 L203.0,130.1 L205.5,133.4 L208.0,136.6 L210.5,139.9 L212.9,143.2 L215.4,146.5 L217.8,149.7 L220.2,153.0 L222.6,156.3 L225.0,159.6" stroke="#4d4d4d" stroke-width="3.6" stroke-dasharray="25.5 17.5" stroke-dashoffset="14.5"/>
<path d="M146.0,33.5 L147.2,35.2 L149.4,38.5 L151.7,41.7 L153.9,45.0 L156.2,48.3 L158.5,51.6 L160.8,54.8 L163.2,58.1 L165.5,61.4 L167.8,64.7 L170.2,67.9 L172.6,71.2 L175.0,74.5 L177.4,77.7 L179.8,81.0 L182.2,84.3 L184.6,87.6 L187.1,90.8 L189.5,94.1 L192.0,97.4 L194.5,100.6 L197.0,103.9 L199.6,107.2 L202.1,110.5 L204.8,113.7 L207.4,117.0 L210.1,120.3 L212.7,123.6 L215.4,126.8 L218.0,130.1 L220.7,133.4 L223.3,136.6 L225.9,139.9 L228.5,143.2 L231.0,146.5 L233.5,149.7 L235.9,153.0 L238.3,156.3 L240.7,159.6" stroke="#4d4d4d" stroke-width="3.4"/>
<path d="M138.0,33.5 L139.0,35.2 L141.1,38.5 L143.1,41.7 L145.2,45.0 L147.2,48.3 L149.3,51.6 L151.4,54.8 L153.5,58.1 L155.6,61.4 L157.7,64.7 L159.8,67.9 L161.9,71.2 L164.0,74.5 L166.2,77.7 L168.3,81.0 L170.5,84.3 L172.7,87.6 L174.9,90.8 L177.0,94.1 L179.2,97.4 L181.4,100.6 L183.7,103.9 L185.9,107.2 L188.1,110.5 L190.4,113.7 L192.7,117.0 L195.0,120.3 L197.3,123.6 L199.6,126.8 L201.9,130.1 L204.2,133.4 L206.5,136.6 L208.8,139.9 L211.2,143.2 L213.5,146.5 L215.8,149.7 L218.1,153.0 L220.4,156.3 L222.7,159.6" stroke="#4d4d4d" stroke-width="3.4"/>
<path d="M137.0,33.5 L138.1,35.2 L140.2,38.5 L142.3,41.7 L144.4,45.0 L146.5,48.3 L148.6,51.6 L150.7,54.8 L152.8,58.1 L154.9,61.4 L157.0,64.7 L159.1,67.9 L161.3,71.2 L163.4,74.5 L165.5,77.7 L167.6,81.0 L169.8,84.3 L171.9,87.6 L174.0,90.8 L176.2,94.1 L178.3,97.4 L180.4,100.6 L182.6,103.9 L184.7,107.2 L186.9,110.5 L189.0,113.7 L191.2,117.0 L193.3,120.3 L195.5,123.6 L197.6,126.8 L199.8,130.1 L202.0,133.4 L204.1,136.6 L206.3,139.9 L208.5,143.2 L210.6,146.5 L212.8,149.7 L215.0,153.0 L217.2,156.3 L219.4,159.6" stroke="#4d4d4d" stroke-width="3.4"/>
</g>
<g fill="#500000"><circle cx="471.7" cy="353.3" r="3.5"/><circle cx="474.7" cy="356.8" r="3.5"/><circle cx="477.6" cy="360.4" r="3.5"/><circle cx="480.5" cy="363.9" r="3.5"/><circle cx="483.4" cy="367.5" r="3.5"/><circle cx="486.3" cy="371.1" r="3.5"/><circle cx="489.1" cy="374.7" r="3.5"/><circle cx="491.9" cy="378.3" r="3.5"/><circle cx="494.7" cy="382.0" r="3.5"/><circle cx="497.5" cy="385.7" r="3.5"/><circle cx="500.2" cy="389.4" r="3.5"/><circle cx="502.9" cy="393.1" r="3.5"/><circle cx="505.6" cy="396.8" r="3.5"/><circle cx="508.3" cy="400.6" r="3.5"/><circle cx="510.9" cy="404.4" r="3.5"/><circle cx="513.5" cy="408.1" r="3.5"/><circle cx="516.1" cy="412.0" r="3.5"/><circle cx="518.7" cy="415.8" r="3.5"/><circle cx="521.2" cy="419.6" r="3.5"/><circle cx="523.7" cy="423.5" r="3.5"/><circle cx="526.2" cy="427.3" r="3.5"/><circle cx="528.7" cy="431.2" r="3.5"/><circle cx="531.1" cy="435.1" r="3.5"/><circle cx="533.5" cy="439.1" r="3.5"/><circle cx="535.7" cy="443.1" r="3.5"/><circle cx="537.9" cy="447.1" r="3.5"/><circle cx="540.1" cy="451.2" r="3.5"/><circle cx="542.2" cy="455.2" r="3.5"/><circle cx="544.3" cy="459.3" r="3.5"/><circle cx="546.4" cy="463.4" r="3.5"/><circle cx="548.6" cy="467.5" r="3.5"/><circle cx="550.8" cy="471.5" r="3.5"/><circle cx="553.0" cy="475.6" r="3.5"/><circle cx="555.2" cy="479.6" r="3.5"/><circle cx="557.4" cy="483.7" r="3.5"/><circle cx="559.6" cy="487.7" r="3.5"/><circle cx="562.0" cy="491.6" r="3.5"/><circle cx="564.4" cy="495.5" r="3.5"/><circle cx="567.0" cy="499.3" r="3.5"/><circle cx="569.7" cy="503.1" r="3.5"/><circle cx="572.5" cy="506.7" r="3.5"/><circle cx="575.4" cy="510.2" r="3.5"/><circle cx="578.3" cy="513.8" r="3.5"/><circle cx="581.3" cy="517.3" r="3.5"/><circle cx="584.3" cy="520.8" r="3.5"/><circle cx="587.4" cy="524.2" r="3.5"/><circle cx="590.4" cy="527.7" r="3.5"/><circle cx="593.5" cy="531.1" r="3.5"/><circle cx="596.6" cy="534.5" r="3.5"/><circle cx="599.7" cy="537.9" r="3.5"/><circle cx="602.8" cy="541.3" r="3.5"/><circle cx="605.8" cy="544.8" r="3.5"/><circle cx="608.8" cy="548.3" r="3.5"/><circle cx="611.7" cy="551.9" r="3.5"/><circle cx="614.6" cy="555.4" r="3.5"/><circle cx="617.3" cy="559.1" r="3.5"/><circle cx="619.3" cy="563.2" r="3.5"/><circle cx="620.7" cy="567.6" r="3.5"/><circle cx="621.8" cy="572.1" r="3.5"/><circle cx="622.2" cy="576.7" r="3.5"/></g>
<g fill="#a4604f"><circle cx="387.1" cy="368.6" r="3.7"/><circle cx="391.9" cy="374.2" r="3.7"/><circle cx="396.7" cy="379.9" r="3.7"/><circle cx="401.4" cy="385.6" r="3.7"/><circle cx="406.1" cy="391.3" r="3.7"/><circle cx="410.9" cy="397.0" r="3.7"/><circle cx="415.5" cy="402.7" r="3.7"/><circle cx="419.8" cy="408.7" r="3.7"/><circle cx="423.9" cy="414.9" r="3.7"/><circle cx="428.4" cy="420.8" r="3.7"/><circle cx="433.2" cy="426.4" r="3.7"/><circle cx="438.2" cy="431.9" r="3.7"/><circle cx="443.0" cy="437.5" r="3.7"/><circle cx="447.3" cy="443.5" r="3.7"/><circle cx="451.6" cy="449.5" r="3.7"/><circle cx="456.7" cy="454.9" r="3.7"/><circle cx="462.2" cy="459.9" r="3.7"/><circle cx="467.9" cy="464.5" r="3.7"/><circle cx="473.8" cy="469.0" r="3.7"/><circle cx="479.8" cy="473.4" r="3.7"/><circle cx="485.7" cy="477.8" r="3.7"/><circle cx="491.7" cy="482.1" r="3.7"/><circle cx="497.8" cy="486.3" r="3.7"/><circle cx="504.0" cy="490.3" r="3.7"/><circle cx="510.3" cy="494.3" r="3.7"/><circle cx="516.6" cy="498.2" r="3.7"/><circle cx="523.0" cy="501.9" r="3.7"/><circle cx="529.5" cy="505.5" r="3.7"/><circle cx="536.0" cy="509.0" r="3.7"/></g>
<g fill="#bcb08b"><circle cx="442.5" cy="359.0" r="3.5"/><circle cx="445.6" cy="362.9" r="3.5"/><circle cx="448.7" cy="366.8" r="3.5"/><circle cx="451.9" cy="370.7" r="3.5"/><circle cx="455.0" cy="374.6" r="3.5"/><circle cx="458.2" cy="378.4" r="3.5"/><circle cx="461.5" cy="382.2" r="3.5"/><circle cx="464.7" cy="386.0" r="3.5"/><circle cx="468.0" cy="389.8" r="3.5"/><circle cx="471.3" cy="393.6" r="3.5"/><circle cx="474.6" cy="397.4" r="3.5"/><circle cx="477.8" cy="401.2" r="3.5"/><circle cx="481.1" cy="405.0" r="3.5"/><circle cx="484.3" cy="408.7" r="3.5"/><circle cx="487.6" cy="412.5" r="3.5"/><circle cx="490.9" cy="416.3" r="3.5"/><circle cx="494.1" cy="420.1" r="3.5"/><circle cx="497.3" cy="424.0" r="3.5"/><circle cx="500.4" cy="427.9" r="3.5"/><circle cx="503.4" cy="431.9" r="3.5"/><circle cx="506.3" cy="436.0" r="3.5"/><circle cx="509.0" cy="440.2" r="3.5"/><circle cx="511.6" cy="444.4" r="3.5"/><circle cx="514.2" cy="448.7" r="3.5"/><circle cx="516.8" cy="453.0" r="3.5"/><circle cx="519.5" cy="457.2" r="3.5"/><circle cx="522.3" cy="461.3" r="3.5"/><circle cx="525.4" cy="465.3" r="3.5"/><circle cx="528.5" cy="469.1" r="3.5"/><circle cx="531.7" cy="473.0" r="3.5"/><circle cx="534.9" cy="476.9" r="3.5"/><circle cx="537.9" cy="480.9" r="3.5"/><circle cx="540.6" cy="485.1" r="3.5"/><circle cx="543.3" cy="489.3" r="3.5"/><circle cx="545.9" cy="493.5" r="3.5"/><circle cx="548.5" cy="497.8" r="3.5"/><circle cx="550.9" cy="502.2" r="3.5"/><circle cx="553.3" cy="506.6" r="3.5"/><circle cx="555.6" cy="511.0" r="3.5"/><circle cx="557.8" cy="515.5" r="3.5"/><circle cx="559.8" cy="520.1" r="3.5"/><circle cx="561.7" cy="524.7" r="3.5"/></g>
<g fill="#a4604f"><circle cx="103.1" cy="33.9" r="3.7"/><circle cx="116.2" cy="67.6" r="3.7"/><circle cx="154.4" cy="133.1" r="3.7"/><circle cx="185.9" cy="161.6" r="3.7"/><circle cx="219.4" cy="214.0" r="3.7"/><circle cx="255.7" cy="268.3" r="3.7"/></g>
<g fill="#bcb08b"><circle cx="109.3" cy="33.9" r="3.7"/><circle cx="141.3" cy="96.1" r="3.7"/><circle cx="180.3" cy="138.7" r="3.7"/><circle cx="224.0" cy="166.1" r="3.7"/><circle cx="297.5" cy="265.5" r="3.7"/></g>
<g fill="#500000"><circle cx="117.1" cy="39.5" r="3.7"/><circle cx="158.0" cy="117.8" r="3.7"/><circle cx="197.9" cy="169.1" r="3.7"/><circle cx="239.9" cy="201.9" r="3.7"/><circle cx="267.6" cy="231.2" r="3.7"/><circle cx="297.5" cy="262.7" r="3.7"/></g>
<g stroke="#262626" stroke-width="2" fill="none">
<path d="M80,33 L80,687.5 L877,687.5"/>
<path d="M80,687.5 L88,687.5"/>
<path d="M80,578.4 L88,578.4"/>
<path d="M80,469.3 L88,469.3"/>
<path d="M80,360.3 L88,360.3"/>
<path d="M80,251.2 L88,251.2"/>
<path d="M80,142.1 L88,142.1"/>
<path d="M80,33.0 L88,33.0"/>
<path d="M198.6,687.5 L198.6,679.5"/>
<path d="M317.2,687.5 L317.2,679.5"/>
<path d="M435.8,687.5 L435.8,679.5"/>
<path d="M554.4,687.5 L554.4,679.5"/>
<path d="M673.0,687.5 L673.0,679.5"/>
<path d="M791.6,687.5 L791.6,679.5"/>
</g>
<text transform="translate(69.50,700.50) scale(1,1.04)" font-size="34" stroke="#262626" stroke-width="0.45" text-anchor="end" fill="#262626">0</text>
<text transform="translate(69.50,591.42) scale(1,1.04)" font-size="34" stroke="#262626" stroke-width="0.45" text-anchor="end" fill="#262626">1</text>
<text transform="translate(69.50,482.34) scale(1,1.04)" font-size="34" stroke="#262626" stroke-width="0.45" text-anchor="end" fill="#262626">2</text>
<text transform="translate(69.50,373.26) scale(1,1.04)" font-size="34" stroke="#262626" stroke-width="0.45" text-anchor="end" fill="#262626">3</text>
<text transform="translate(69.50,264.18) scale(1,1.04)" font-size="34" stroke="#262626" stroke-width="0.45" text-anchor="end" fill="#262626">4</text>
<text transform="translate(69.50,155.10) scale(1,1.04)" font-size="34" stroke="#262626" stroke-width="0.45" text-anchor="end" fill="#262626">5</text>
<text transform="translate(69.50,46.02) scale(1,1.04)" font-size="34" stroke="#262626" stroke-width="0.45" text-anchor="end" fill="#262626">6</text>
<text transform="translate(80.80,727.50) scale(1,1.04)" font-size="34" stroke="#262626" stroke-width="0.45" text-anchor="middle" fill="#262626">0</text>
<text transform="translate(199.40,727.50) scale(1,1.04)" font-size="34" stroke="#262626" stroke-width="0.45" text-anchor="middle" fill="#262626">0.1</text>
<text transform="translate(318.00,727.50) scale(1,1.04)" font-size="34" stroke="#262626" stroke-width="0.45" text-anchor="middle" fill="#262626">0.2</text>
<text transform="translate(436.60,727.50) scale(1,1.04)" font-size="34" stroke="#262626" stroke-width="0.45" text-anchor="middle" fill="#262626">0.3</text>
<text transform="translate(555.20,727.50) scale(1,1.04)" font-size="34" stroke="#262626" stroke-width="0.45" text-anchor="middle" fill="#262626">0.4</text>
<text transform="translate(673.80,727.50) scale(1,1.04)" font-size="34" stroke="#262626" stroke-width="0.45" text-anchor="middle" fill="#262626">0.5</text>
<text transform="translate(792.40,727.50) scale(1,1.04)" font-size="34" stroke="#262626" stroke-width="0.45" text-anchor="middle" fill="#262626">0.6</text>
<text transform="translate(16.00,779.50) scale(1,1.04)" font-size="34" font-weight="bold" fill="#262626">(a)</text>
<text transform="translate(383.00,782.70) scale(1,1.04)" font-size="34" font-weight="bold" fill="#262626">Theta [m<tspan font-size="29" dx="4" dy="-14.5">3</tspan><tspan dx="1" dy="14.5"> m</tspan><tspan font-size="29" dx="2" dy="-14.5">-3</tspan><tspan dx="0" dy="14.5">]</tspan></text>
<text transform="translate(41.20,360.00) rotate(-90) scale(1,1.04)" font-size="34" font-weight="bold" text-anchor="middle" fill="#262626">pF</text>
<text transform="translate(831.00,360.30) rotate(90) scale(1,1.04)" font-size="35" font-weight="bold" text-anchor="middle" fill="#262626">PAW</text>
<g stroke="#000" stroke-width="2.5"><path d="M844,250 L844,315.4"/><path d="M844,405 L844,470"/></g>
<g fill="#000"><path d="M844,234.3 L851,252.6 L837,252.6 Z"/><path d="M844,485.5 L851,467.2 L837,467.2 Z"/></g>
<rect x="95" y="525.5" width="222" height="143" fill="#fff" stroke="#262626" stroke-width="1.8"/>
<path d="M105.7,552.3 L213.8,552.3" stroke="#500000" stroke-width="5.6"/>
<text transform="translate(222.50,565.80) scale(1,1.04)" font-size="32" stroke="#000" stroke-width="0.45" fill="#000">0.0 m</text>
<path d="M105.7,596.9 L213.8,596.9" stroke="#a4604f" stroke-width="5.6"/>
<text transform="translate(222.50,610.40) scale(1,1.04)" font-size="32" stroke="#000" stroke-width="0.45" fill="#000">0.3 m</text>
<path d="M105.7,641.5 L213.8,641.5" stroke="#bcb08b" stroke-width="5.6"/>
<text transform="translate(222.50,655.00) scale(1,1.04)" font-size="32" stroke="#000" stroke-width="0.45" fill="#000">0.5 m</text>
<rect x="959.5" y="110.6" width="220.0" height="107.4" fill="#c7c0b0"/>
<rect x="959.5" y="244.7" width="131.1" height="107.4" fill="#c7c0b0"/>
<rect x="959.5" y="378.8" width="81.4" height="107.4" fill="#c7c0b0"/>
<rect x="959.5" y="513.1" width="105.0" height="107.4" fill="#c7c0b0"/>
<g stroke="#000" stroke-width="2.4" fill="none">
<path d="M1081.6,164.3 L1297.7,164.3"/>
<path d="M1081.6,154.0 L1081.6,174.6" stroke-width="2.9"/>
<path d="M1297.7,154.0 L1297.7,174.6" stroke-width="2.9"/>
<path d="M1052.9,298.4 L1165.6,298.4"/>
<path d="M1052.9,288.1 L1052.9,308.7" stroke-width="2.9"/>
<path d="M1165.6,288.1 L1165.6,308.7" stroke-width="2.9"/>
<path d="M1015.9,432.5 L1061.0,432.5"/>
<path d="M1015.9,422.2 L1015.9,442.8" stroke-width="2.9"/>
<path d="M1061.0,422.2 L1061.0,442.8" stroke-width="2.9"/>
<path d="M1006.2,566.8 L1172.1,566.8"/>
<path d="M1006.2,556.5 L1006.2,577.1" stroke-width="2.9"/>
<path d="M1172.1,556.5 L1172.1,577.1" stroke-width="2.9"/>
</g>
<g stroke="#1a1a1a" stroke-width="2" fill="none">
<rect x="959.5" y="43.6" width="343.2" height="643.6"/>
<path d="M1059.2,687.2 L1059.2,680.5"/><path d="M1059.2,43.6 L1059.2,50.3"/>
<path d="M1159.0,687.2 L1159.0,680.5"/><path d="M1159.0,43.6 L1159.0,50.3"/>
<path d="M1258.6,687.2 L1258.6,680.5"/><path d="M1258.6,43.6 L1258.6,50.3"/>
<path d="M959.5,164.3 L965.5,164.3"/><path d="M1302.7,164.3 L1296.7,164.3"/>
<path d="M959.5,298.4 L965.5,298.4"/><path d="M1302.7,298.4 L1296.7,298.4"/>
<path d="M959.5,432.5 L965.5,432.5"/><path d="M1302.7,432.5 L1296.7,432.5"/>
<path d="M959.5,566.8 L965.5,566.8"/><path d="M1302.7,566.8 L1296.7,566.8"/>
</g>
<text transform="translate(959.50,727.00) scale(1,1.04)" font-size="34" stroke="#262626" stroke-width="0.45" text-anchor="middle" fill="#262626">0</text>
<text transform="translate(1059.20,727.00) scale(1,1.04)" font-size="34" stroke="#262626" stroke-width="0.45" text-anchor="middle" fill="#262626">200</text>
<text transform="translate(1159.00,727.00) scale(1,1.04)" font-size="34" stroke="#262626" stroke-width="0.45" text-anchor="middle" fill="#262626">400</text>
<text transform="translate(1258.60,727.00) scale(1,1.04)" font-size="34" stroke="#262626" stroke-width="0.45" text-anchor="middle" fill="#262626">600</text>
<rect x="1323.2" y="110.6" width="330.5" height="107.4" fill="#c7c0b0"/>
<rect x="1323.2" y="244.7" width="310.2" height="107.4" fill="#c7c0b0"/>
<rect x="1323.2" y="378.8" width="304.4" height="107.4" fill="#c7c0b0"/>
<rect x="1323.2" y="513.1" width="312.0" height="107.4" fill="#c7c0b0"/>
<g stroke="#000" stroke-width="2.4" fill="none">
<path d="M1638.9,164.3 L1666.7,164.3"/>
<path d="M1638.9,154.0 L1638.9,174.6" stroke-width="2.9"/>
<path d="M1666.7,154.0 L1666.7,174.6" stroke-width="2.9"/>
<path d="M1616.6,298.4 L1661.4,298.4"/>
<path d="M1616.6,288.1 L1616.6,308.7" stroke-width="2.9"/>
<path d="M1661.4,288.1 L1661.4,308.7" stroke-width="2.9"/>
<path d="M1627.6,422.2 L1627.6,442.8" stroke-width="2.9"/>
<path d="M1627.6,422.2 L1627.6,442.8" stroke-width="2.9"/>
<path d="M1627.6,566.8 L1644.9,566.8"/>
<path d="M1627.6,556.5 L1627.6,577.1" stroke-width="2.9"/>
<path d="M1644.9,556.5 L1644.9,577.1" stroke-width="2.9"/>
</g>
<g stroke="#1a1a1a" stroke-width="2" fill="none">
<rect x="1323.2" y="43.6" width="343.5" height="643.6"/>
<path d="M1434.0,687.2 L1434.0,680.5"/><path d="M1434.0,43.6 L1434.0,50.3"/>
<path d="M1544.5,687.2 L1544.5,680.5"/><path d="M1544.5,43.6 L1544.5,50.3"/>
<path d="M1655.3,687.2 L1655.3,680.5"/><path d="M1655.3,43.6 L1655.3,50.3"/>
</g>
<text transform="translate(1323.20,727.00) scale(1,1.04)" font-size="34" stroke="#262626" stroke-width="0.45" text-anchor="middle" fill="#262626">0</text>
<text transform="translate(1434.00,727.00) scale(1,1.04)" font-size="34" stroke="#262626" stroke-width="0.45" text-anchor="middle" fill="#262626">0.2</text>
<text transform="translate(1544.50,727.00) scale(1,1.04)" font-size="34" stroke="#262626" stroke-width="0.45" text-anchor="middle" fill="#262626">0.4</text>
<text transform="translate(1650.00,727.00) scale(1,1.04)" font-size="34" stroke="#262626" stroke-width="0.45" text-anchor="middle" fill="#262626">0.6</text>
<rect x="1686.7" y="110.6" width="282.5" height="107.4" fill="#c7c0b0"/>
<rect x="1686.7" y="244.7" width="313.1" height="107.4" fill="#c7c0b0"/>
<rect x="1686.7" y="378.8" width="314.0" height="107.4" fill="#c7c0b0"/>
<rect x="1686.7" y="513.1" width="308.8" height="107.4" fill="#c7c0b0"/>
<g stroke="#000" stroke-width="2.4" fill="none">
<path d="M1960.9,164.3 L1981.2,164.3"/>
<path d="M1960.9,154.0 L1960.9,174.6" stroke-width="2.9"/>
<path d="M1981.2,154.0 L1981.2,174.6" stroke-width="2.9"/>
<path d="M1968.3,298.4 L2021.7,298.4"/>
<path d="M1968.3,288.1 L1968.3,308.7" stroke-width="2.9"/>
<path d="M2021.7,288.1 L2021.7,308.7" stroke-width="2.9"/>
<path d="M1996.2,432.5 L2004.2,432.5"/>
<path d="M1996.2,422.2 L1996.2,442.8" stroke-width="2.9"/>
<path d="M2004.2,422.2 L2004.2,442.8" stroke-width="2.9"/>
<path d="M1972.0,566.8 L2024.0,566.8"/>
<path d="M1972.0,556.5 L1972.0,577.1" stroke-width="2.9"/>
<path d="M2024.0,556.5 L2024.0,577.1" stroke-width="2.9"/>
</g>
<g stroke="#1a1a1a" stroke-width="2" fill="none">
<rect x="1686.7" y="43.6" width="340.5" height="643.6"/>
<path d="M1857.0,687.2 L1857.0,680.5"/><path d="M1857.0,43.6 L1857.0,50.3"/>
</g>
<text transform="translate(1686.70,727.00) scale(1,1.04)" font-size="34" stroke="#262626" stroke-width="0.45" text-anchor="middle" fill="#262626">0</text>
<text transform="translate(1857.00,727.00) scale(1,1.04)" font-size="34" stroke="#262626" stroke-width="0.45" text-anchor="middle" fill="#262626">0.2</text>
<text transform="translate(2027.00,727.00) scale(1,1.04)" font-size="34" stroke="#262626" stroke-width="0.45" text-anchor="middle" fill="#262626">0.4</text>
<text transform="translate(919.00,153.50) scale(1,1.04)" font-size="34" stroke="#262626" stroke-width="0.45" text-anchor="middle" fill="#262626">0.05</text>
<text transform="translate(919.00,328.00) scale(1,1.04)" font-size="34" stroke="#262626" stroke-width="0.45" text-anchor="middle" fill="#262626">0.25</text>
<text transform="translate(919.00,421.50) scale(1,1.04)" font-size="34" stroke="#262626" stroke-width="0.45" text-anchor="middle" fill="#262626">0.05</text>
<text transform="translate(919.00,599.00) scale(1,1.04)" font-size="34" stroke="#262626" stroke-width="0.45" text-anchor="middle" fill="#262626">0.25</text>
<g stroke="#000" stroke-width="2.5" fill="none">
<path d="M925,166 L899.5,166 L899.5,191.7"/>
<path d="M899.5,269.7 L899.5,296 L925.5,296"/>
<path d="M925,433.3 L899.5,433.3 L899.5,457.4"/>
<path d="M899.5,539.5 L899.5,565 L925,565"/>
</g>
<text transform="translate(911.00,228.40) rotate(-90) scale(1,1.04)" font-size="34" font-weight="bold" text-anchor="middle" fill="#262626">BB</text>
<text transform="translate(913.00,497.70) rotate(-90) scale(1,1.04)" font-size="34" font-weight="bold" text-anchor="middle" fill="#262626">WB</text>
<text transform="translate(886.80,777.00) scale(1,1.04)" font-size="34" font-weight="bold" fill="#262626">(b)</text>
<text transform="translate(1013.40,777.60) scale(1,1.04)" font-size="34" font-weight="bold" fill="#262626">Ksat [mm h<tspan font-size="29" dx="3" dy="-14.5">-1</tspan><tspan dx="3" dy="14.5">]</tspan></text>
<text transform="translate(1399.70,774.10) scale(1,1.04)" font-size="34" font-weight="bold" fill="#262626">Porosity [%]</text>
<text transform="translate(1758.70,780.60) scale(1,1.04)" font-size="34" font-weight="bold" fill="#262626">FC [m<tspan font-size="29" dx="0.5" dy="-14.5">3</tspan><tspan dx="0" dy="14.5"> m</tspan><tspan font-size="29" dx="2" dy="-14.5">-3</tspan><tspan dx="0" dy="14.5">]</tspan></text>
</svg></body></html>
